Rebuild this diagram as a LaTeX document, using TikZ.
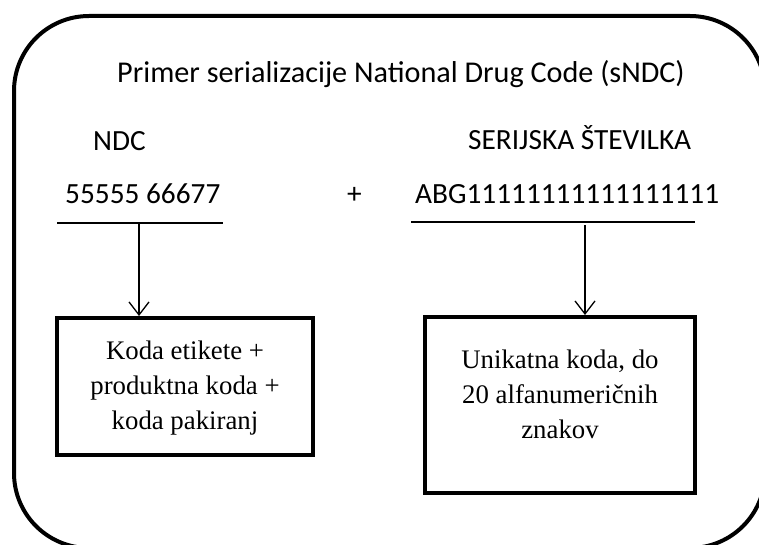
\documentclass[tikz,border=0pt]{standalone}
\usepackage{fontspec}
\setmainfont{Carlito}
\newfontfamily\boxfont{Liberation Serif}
\usetikzlibrary{arrows.meta}

\begin{document}
\begin{tikzpicture}[x=1pt,y=-1pt,
  label/.style={inner sep=0pt,anchor=base west,font=\fontsize{29.3}{34}\selectfont},
  codebox/.style={draw,line width=4pt,rectangle,inner sep=0pt},
  boxtext/.style={inner sep=0pt,align=center,font=\boxfont\fontsize{26.8}{35}\selectfont},
  rule/.style={line width=1.5pt},
  pointer/.style={line width=1.3pt,-{Straight Barb[length=13pt,width=20pt,line width=1.3pt]}}]
\useasboundingbox (0,0) rectangle (759,545);
\clip (0,0) rectangle (759,545);

% outer frame
\draw[line width=4pt,rounded corners=75pt] (14,16) rectangle (765,548);

% headings and codes
\node[label,font=\fontsize{30.2}{36}\selectfont] (title) at (117,83) {Primer serializacije National Drug Code (sNDC)};
\node[label] (ndc) at (93,151) {NDC};
\node[label] (serial) at (468,150) {SERIJSKA ŠTEVILKA};
\node[label] (ndcnum) at (65,204) {55555 66677};
\node[label] (plus) at (347,204) {+};
\node[label] (sernum) at (415,204) {ABG11111111111111111};

% rules under the codes
\coordinate (r1a) at (57,223);
\coordinate (r1b) at (223,223);
\coordinate (r2a) at (411,222);
\coordinate (r2b) at (695,222);
\draw[rule] (r1a) -- (r1b);
\draw[rule] (r2a) -- (r2b);

% description boxes
\node[codebox,minimum width=256pt,minimum height=137pt] (box1) at (185,386.5) {};
\node[codebox,minimum width=270pt,minimum height=176pt] (box2) at (560,405) {};
\node[boxtext,anchor=center] (text1) at (185,388) {Koda etikete +\\produktna koda +\\koda pakiranj};
\node[boxtext,anchor=center] (text2) at (560,394) {Unikatna koda, do\\20 alfanumeričnih\\znakov};

% arrows
\coordinate (a1) at (139,223);
\coordinate (a2) at (585,225);
\draw[pointer] (a1) -- (a1 |- box1.north);
\draw[pointer] (a2) -- (a2 |- box2.north);
\end{tikzpicture}
\end{document}
